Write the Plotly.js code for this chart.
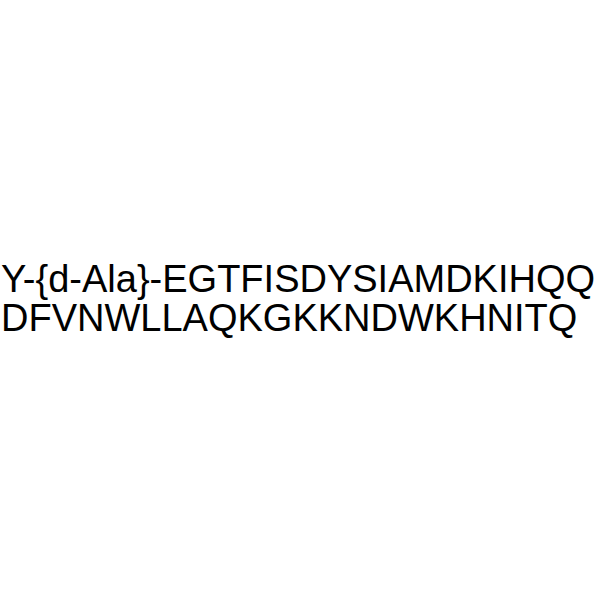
<!DOCTYPE html>
<html>
<head>
<meta charset="utf-8">
<script src="https://cdn.plot.ly/plotly-3.0.1.min.js"></script>
<style>
  html, body { margin: 0; padding: 0; background: #fff; }
  #chart { width: 600px; height: 600px; }
</style>
</head>
<body>
<div id="chart"></div>
<script>
// Sequence lines as drawn in the picture
const seqLines = ['Y-{d-Ala}-EGTFISDYSIAMDKIHQQ', 'DFVNWLLAQKGKKNDWKHNITQ'];
const lineY = [0.5345, 0.4695];

const annotations = seqLines.map((t, i) => ({
    text: t,
    xref: 'paper', yref: 'paper',
    x: 0, y: lineY[i],
    xanchor: 'left', yanchor: 'middle',
    xshift: -1,
    showarrow: false,
    font: { family: 'Arial, "Liberation Sans", sans-serif', size: 38, color: '#000' }
}));

const layout = {
    width: 600, height: 600,
    margin: { t: 0, r: 0, b: 0, l: 0 },
    paper_bgcolor: '#ffffff',
    plot_bgcolor: '#ffffff',
    xaxis: { visible: false, range: [0, 1] },
    yaxis: { visible: false, range: [0, 1] },
    showlegend: false,
    annotations: annotations
};

Plotly.newPlot('chart', [], layout, { staticPlot: true, displayModeBar: false });
</script>
</body>
</html>
